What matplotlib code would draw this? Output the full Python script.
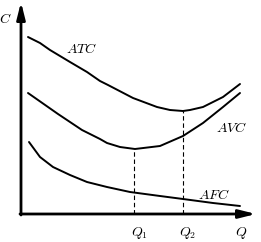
import matplotlib
matplotlib.use("Agg")
import matplotlib.pyplot as plt

plt.rcParams["mathtext.fontset"] = "cm"

# curve points (quantity, cost)
atc_q = [7, 19, 29, 49, 66, 79, 87, 112, 136, 149, 162, 169, 182, 202, 219]
atc_c = [177, 171, 164, 152, 142, 133, 129, 116, 107, 104, 103, 104, 107, 117, 130]

avc_q = [7, 37, 61, 79, 86, 99, 114, 139, 162, 182, 202, 219]
avc_c = [121, 100, 84, 75, 71, 67, 65, 68, 78, 91, 107, 121]

afc_q = [8, 19, 32, 49, 66, 86, 109, 139, 162, 192, 219]
afc_c = [72, 57, 47, 39, 32, 27, 22, 18, 15, 11, 8]

q1, q1_cost = 113, 65
q2, q2_cost = 162, 103
tick_labels = [r"$Q_1$", r"$Q_2$"]

fig = plt.figure(figsize=(2.61, 2.42), dpi=100)
ax = fig.add_axes([0, 0, 1, 1])
ax.set_xlim(-21, 240)
ax.set_ylim(-28, 214)
ax.axis("off")

for q, c in [(atc_q, atc_c), (avc_q, avc_c), (afc_q, afc_c)]:
    ax.plot(q, c, color="black", lw=1.4, solid_capstyle="round")

ax.plot([q1, q1], [0, q1_cost], color="black", lw=0.8, ls=(0, (4, 2.5)))
ax.plot([q2, q2], [0, q2_cost], color="black", lw=0.8, ls=(0, (4, 2.5)))

# axes with arrows
arrow = dict(arrowstyle="-|>,head_length=1.0,head_width=0.25", lw=2,
             color="black", shrinkA=0, shrinkB=0)
ax.annotate("", xy=(0, 212), xytext=(0, -1), arrowprops=arrow)
ax.annotate("", xy=(235, 0), xytext=(-1, 0), arrowprops=arrow)

fs = 10
ax.text(-16, 195, r"$C$", fontsize=fs, ha="center", va="center")
ax.text(61, 165, r"$ATC$", fontsize=fs, ha="center", va="center")
ax.text(211, 86, r"$AVC$", fontsize=fs, ha="center", va="center")
ax.text(193, 19, r"$AFC$", fontsize=fs, ha="center", va="center")
ax.text(q1 + 6, -19, tick_labels[0], fontsize=fs, ha="center", va="center")
ax.text(q2 + 5, -19, tick_labels[1], fontsize=fs, ha="center", va="center")
ax.text(220, -19, r"$Q$", fontsize=fs, ha="center", va="center")

fig.savefig("out.png", dpi=100)
